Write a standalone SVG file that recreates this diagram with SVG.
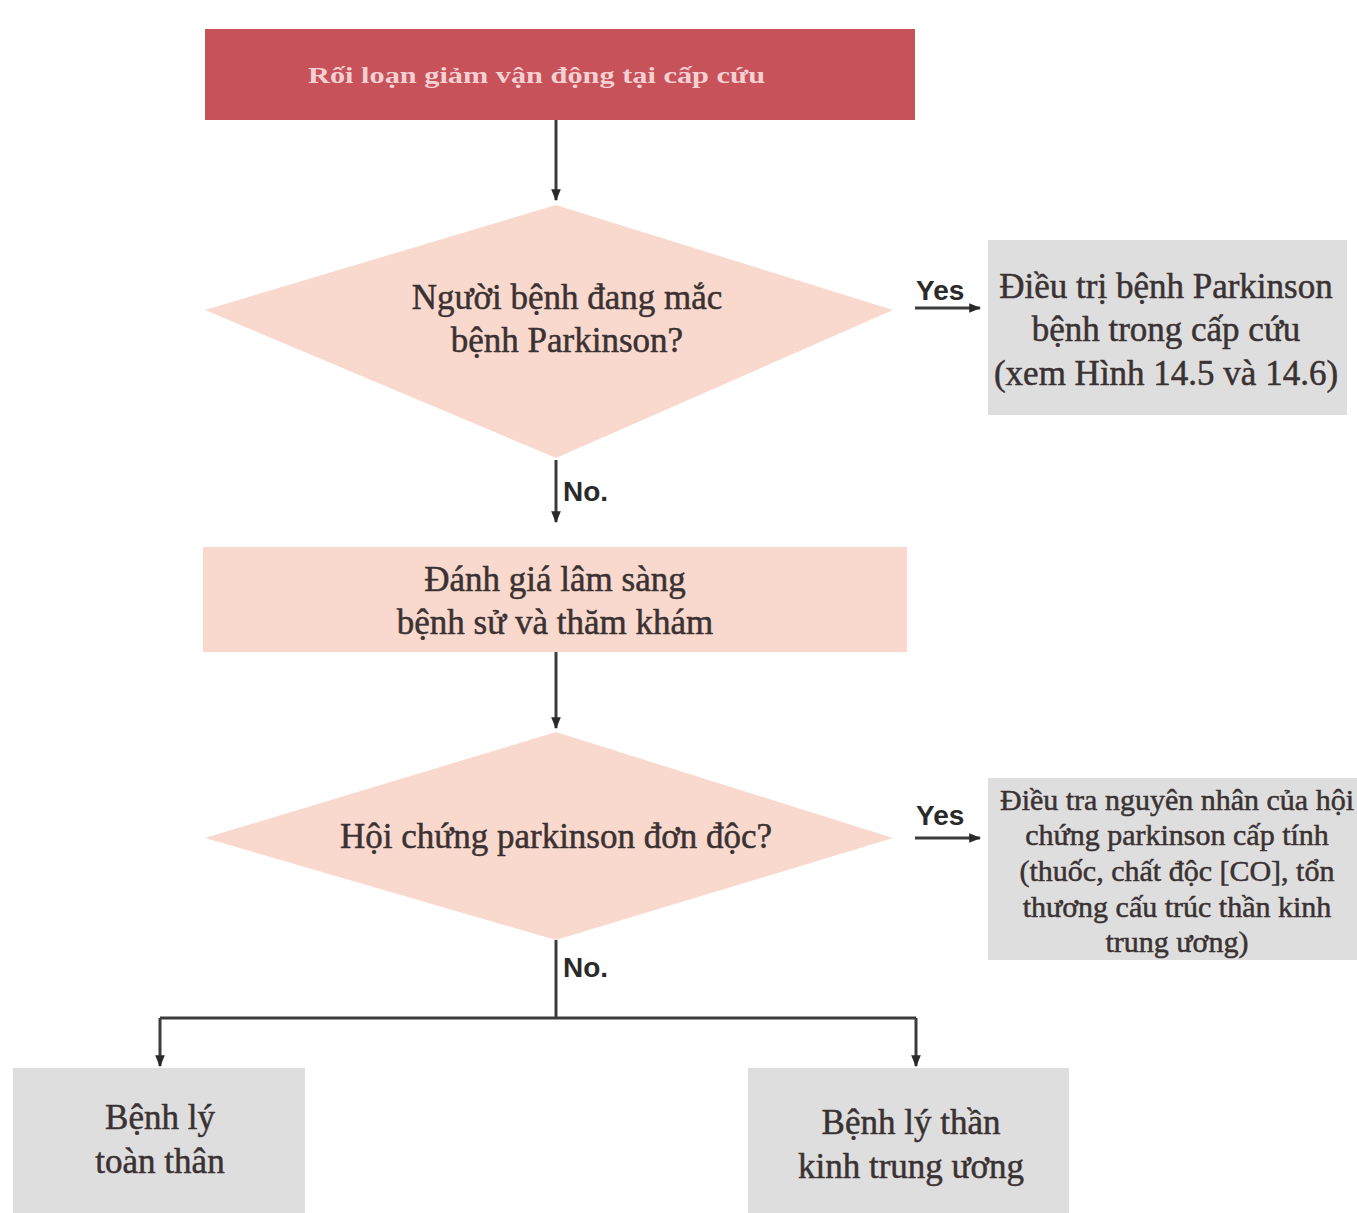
<svg xmlns="http://www.w3.org/2000/svg" width="1357" height="1213" viewBox="0 0 1357 1213">
  <style>
    .t { font-family: "Liberation Serif", "DejaVu Serif", serif; fill: #3a3232; text-anchor: middle; stroke: #3a3232; stroke-width: 0.5; }
    .big { font-size: 35px; }
    .small { font-size: 30px; }
    .lbl { font-family: "Liberation Sans", Arial, sans-serif; font-weight: bold; font-size: 28px; fill: #2a2a2a; }
    .head { font-family: "Liberation Serif", serif; font-weight: bold; font-size: 24px; fill: #f5d0d2; }
    .ln { stroke: #3c3c3c; stroke-width: 3; fill: none; }
    .pink { fill: #f9d9cd; }
    .grey { fill: #dedede; }
  </style>
  <defs>
    <marker id="arr" viewBox="0 0 10 10" refX="9" refY="5" markerWidth="4" markerHeight="4" orient="auto" markerUnits="strokeWidth">
      <path d="M0,1 L10,5 L0,9 z" fill="#2a2a2a"/>
    </marker>
  </defs>

  <g id="start">
    <rect x="205" y="29" width="710" height="91" fill="#c8525a"/>
    <text class="head" x="308" y="83" textLength="457" lengthAdjust="spacingAndGlyphs">Rối loạn giảm vận động tại cấp cứu</text>
  </g>

  <g id="q1">
    <polygon class="pink" points="556,205 893,310 556,458 205,310"/>
    <text class="t big" x="567" y="309">Người bệnh đang mắc</text>
    <text class="t big" x="567" y="352">bệnh Parkinson?</text>
  </g>

  <g id="parkinson-care">
    <rect class="grey" x="988" y="240" width="359" height="175"/>
    <text class="t big" x="1166" y="298">Điều trị bệnh Parkinson</text>
    <text class="t big" x="1166" y="341">bệnh trong cấp cứu</text>
    <text class="t big" x="1166" y="385">(xem Hình 14.5 và 14.6)</text>
  </g>

  <g id="assess">
    <rect class="pink" x="203" y="547" width="704" height="105"/>
    <text class="t big" x="555" y="591">Đánh giá lâm sàng</text>
    <text class="t big" x="555" y="634">bệnh sử và thăm khám</text>
  </g>

  <g id="q2">
    <polygon class="pink" points="556,732 893,838 556,940 205,838"/>
    <text class="t big" x="556" y="848">Hội chứng parkinson đơn độc?</text>
  </g>

  <g id="acute-cause">
    <rect class="grey" x="988" y="778" width="369" height="182"/>
    <text class="t small" x="1177" y="810">Điều tra nguyên nhân của hội</text>
    <text class="t small" x="1177" y="845">chứng parkinson cấp tính</text>
    <text class="t small" x="1177" y="881">(thuốc, chất độc [CO], tổn</text>
    <text class="t small" x="1177" y="917">thương cấu trúc thần kinh</text>
    <text class="t small" x="1177" y="952">trung ương)</text>
  </g>

  <g id="systemic">
    <rect class="grey" x="13" y="1068" width="292" height="145"/>
    <text class="t big" x="160" y="1129">Bệnh lý</text>
    <text class="t big" x="160" y="1173">toàn thân</text>
  </g>

  <g id="cns">
    <rect class="grey" x="748" y="1068" width="321" height="145"/>
    <text class="t big" x="911" y="1134">Bệnh lý thần</text>
    <text class="t big" x="911" y="1178">kinh trung ương</text>
  </g>

  <g id="connectors">
    <line class="ln" x1="556" y1="120" x2="556" y2="200" marker-end="url(#arr)"/>
    <line class="ln" x1="915" y1="308" x2="980" y2="308" marker-end="url(#arr)"/>
    <text class="lbl" x="916" y="300">Yes</text>
    <line class="ln" x1="556" y1="460" x2="556" y2="522" marker-end="url(#arr)"/>
    <text class="lbl" x="563" y="501">No.</text>
    <line class="ln" x1="556" y1="652" x2="556" y2="728" marker-end="url(#arr)"/>
    <line class="ln" x1="915" y1="838" x2="980" y2="838" marker-end="url(#arr)"/>
    <text class="lbl" x="916" y="825">Yes</text>
    <line class="ln" x1="556" y1="940" x2="556" y2="1018"/>
    <text class="lbl" x="563" y="977">No.</text>
    <polyline class="ln" points="160,1018 916,1018"/>
    <line class="ln" x1="160" y1="1018" x2="160" y2="1066" marker-end="url(#arr)"/>
    <line class="ln" x1="916" y1="1018" x2="916" y2="1066" marker-end="url(#arr)"/>
  </g>
</svg>
